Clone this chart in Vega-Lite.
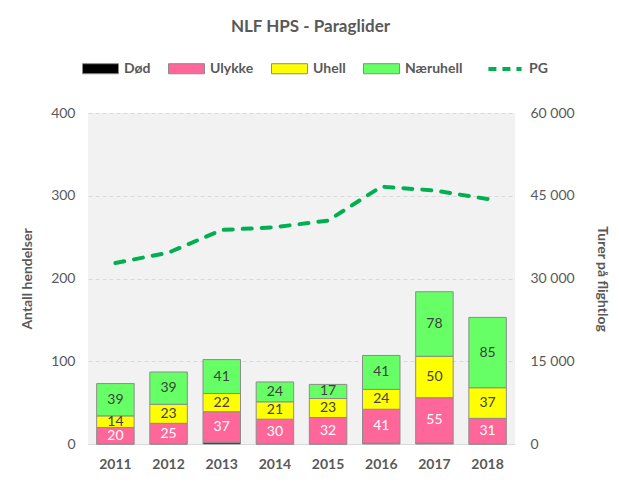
{
  "$schema": "https://vega.github.io/schema/vega-lite/v6.json",
  "width": 427,
  "height": 331,
  "autosize": {"type": "none"},
  "padding": {"left": 88, "top": 113, "right": 104, "bottom": 43},
  "background": "white",
  "title": {
    "text": "NLF HPS - Paraglider",
    "font": "Lato",
    "fontSize": 17,
    "fontWeight": "bold",
    "color": "#595959",
    "anchor": "middle",
    "dx": 9,
    "offset": 14
  },
  "config": {
    "font": "Lato",
    "view": {"fill": "#F2F2F2", "stroke": null}
  },
  "datasets": {
    "bars": [
      {"year": "2011", "cat": "Død", "k": 1, "v": 0},
      {"year": "2011", "cat": "Ulykke", "k": 2, "v": 20},
      {"year": "2011", "cat": "Uhell", "k": 3, "v": 14},
      {"year": "2011", "cat": "Næruhell", "k": 4, "v": 39},
      {"year": "2012", "cat": "Død", "k": 1, "v": 0},
      {"year": "2012", "cat": "Ulykke", "k": 2, "v": 25},
      {"year": "2012", "cat": "Uhell", "k": 3, "v": 23},
      {"year": "2012", "cat": "Næruhell", "k": 4, "v": 39},
      {"year": "2013", "cat": "Død", "k": 1, "v": 2},
      {"year": "2013", "cat": "Ulykke", "k": 2, "v": 37},
      {"year": "2013", "cat": "Uhell", "k": 3, "v": 22},
      {"year": "2013", "cat": "Næruhell", "k": 4, "v": 41},
      {"year": "2014", "cat": "Død", "k": 1, "v": 0},
      {"year": "2014", "cat": "Ulykke", "k": 2, "v": 30},
      {"year": "2014", "cat": "Uhell", "k": 3, "v": 21},
      {"year": "2014", "cat": "Næruhell", "k": 4, "v": 24},
      {"year": "2015", "cat": "Død", "k": 1, "v": 0},
      {"year": "2015", "cat": "Ulykke", "k": 2, "v": 32},
      {"year": "2015", "cat": "Uhell", "k": 3, "v": 23},
      {"year": "2015", "cat": "Næruhell", "k": 4, "v": 17},
      {"year": "2016", "cat": "Død", "k": 1, "v": 1},
      {"year": "2016", "cat": "Ulykke", "k": 2, "v": 41},
      {"year": "2016", "cat": "Uhell", "k": 3, "v": 24},
      {"year": "2016", "cat": "Næruhell", "k": 4, "v": 41},
      {"year": "2017", "cat": "Død", "k": 1, "v": 1},
      {"year": "2017", "cat": "Ulykke", "k": 2, "v": 55},
      {"year": "2017", "cat": "Uhell", "k": 3, "v": 50},
      {"year": "2017", "cat": "Næruhell", "k": 4, "v": 78},
      {"year": "2018", "cat": "Død", "k": 1, "v": 0},
      {"year": "2018", "cat": "Ulykke", "k": 2, "v": 31},
      {"year": "2018", "cat": "Uhell", "k": 3, "v": 37},
      {"year": "2018", "cat": "Næruhell", "k": 4, "v": 85}
    ],
    "pg": [
      {"year": "2011", "series": "PG", "turer": 32800},
      {"year": "2012", "series": "PG", "turer": 34700},
      {"year": "2013", "series": "PG", "turer": 38800},
      {"year": "2014", "series": "PG", "turer": 39300},
      {"year": "2015", "series": "PG", "turer": 40500},
      {"year": "2016", "series": "PG", "turer": 46650},
      {"year": "2017", "series": "PG", "turer": 45950},
      {"year": "2018", "series": "PG", "turer": 44400}
    ]
  },
  "encoding": {
    "x": {
      "field": "year",
      "type": "ordinal",
      "scale": {"paddingInner": 0.295, "paddingOuter": 0.163},
      "axis": {
        "title": null,
        "labelAngle": 0,
        "labelFont": "Lato",
        "labelFontSize": 14,
        "labelFontWeight": "bold",
        "labelColor": "#595959",
        "labelPadding": 13,
        "ticks": false,
        "domainColor": "#D9D9D9",
        "domainWidth": 1,
        "grid": false
      }
    }
  },
  "layer": [
    {
      "layer": [
        {
          "data": {"name": "bars"},
          "mark": {"type": "bar", "stroke": "#8C8C8C", "strokeWidth": 1},
          "encoding": {
            "y": {
              "field": "v",
              "type": "quantitative",
              "stack": "zero",
              "scale": {"domain": [0, 400], "nice": false},
              "axis": {
                "orient": "left",
                "values": [0, 100, 200, 300, 400],
                "title": "Antall hendelser",
                "titleFont": "Lato",
                "titleFontSize": 14,
                "titleFontWeight": "bold",
                "titleColor": "#595959",
                "titlePadding": 16,
                "labelFont": "Lato",
                "labelFontSize": 14,
                "labelColor": "#595959",
                "labelPadding": 13,
                "domain": false,
                "ticks": false,
                "grid": true,
                "gridColor": "#D9D9D9",
                "gridDash": [4, 3],
                "gridWidth": 1
              }
            },
            "fill": {
              "field": "cat",
              "type": "nominal",
              "scale": {
                "domain": ["Død", "Ulykke", "Uhell", "Næruhell"],
                "range": ["#000000", "#FF6699", "#FFFF00", "#66FF66"]
              },
              "legend": {
                "title": null,
                "orient": "none",
                "direction": "horizontal",
                "legendX": -6,
                "legendY": -63,
                "symbolType": "M-1,-0.28H1V0.28H-1Z",
                "symbolSize": 1296,
                "symbolStrokeColor": "#8C8C8C",
                "symbolStrokeWidth": 1,
                "symbolOpacity": 1,
                "labelFont": "Lato",
                "labelFontSize": 14,
                "labelFontWeight": "bold",
                "labelColor": "#595959",
                "labelOffset": 5,
                "columnPadding": 15
              }
            },
            "order": {"field": "k", "type": "quantitative"}
          }
        },
        {
          "data": {"name": "bars"},
          "transform": [
            {"stack": "v", "groupby": ["year"], "sort": [{"field": "k", "order": "ascending"}], "as": ["y0", "y1"]},
            {"fold": ["y0", "y1"], "as": ["edge", "pos"]},
            {"aggregate": [{"op": "mean", "field": "pos", "as": "mid"}, {"op": "max", "field": "v", "as": "v"}], "groupby": ["year", "cat"]},
            {"filter": "datum.cat !== 'Død'"}
          ],
          "mark": {"type": "text", "font": "Lato", "fontSize": 14, "baseline": "middle", "align": "center"},
          "encoding": {
            "y": {"field": "mid", "type": "quantitative"},
            "text": {"field": "v", "type": "quantitative"},
            "fill": {
              "condition": {"test": "datum.cat === 'Ulykke'", "value": "#FFFFFF"},
              "value": "#404040"
            }
          }
        }
      ]
    },
    {
      "data": {"name": "pg"},
      "mark": {"type": "line", "strokeWidth": 4, "strokeDash": [9, 10], "strokeCap": "round"},
      "encoding": {
        "y": {
          "field": "turer",
          "type": "quantitative",
          "scale": {"domain": [0, 60000], "nice": false},
          "axis": {
            "orient": "right",
            "values": [0, 15000, 30000, 45000, 60000],
            "labelExpr": "replace(format(datum.value, ','), ',', ' ')",
            "title": "Turer på flightlog",
            "titleFont": "Lato",
            "titleFontSize": 14,
            "titleFontWeight": "bold",
            "titleColor": "#595959",
            "titlePadding": 20,
            "labelFont": "Lato",
            "labelFontSize": 14,
            "labelColor": "#595959",
            "labelPadding": 15,
            "domain": false,
            "ticks": false,
            "grid": false
          }
        },
        "stroke": {
          "field": "series",
          "type": "nominal",
          "scale": {"domain": ["PG"], "range": ["#00B050"]},
          "legend": {
            "title": null,
            "orient": "none",
            "legendX": 398,
            "legendY": -63,
            "symbolType": "stroke",
            "symbolSize": 1100,
            "symbolStrokeWidth": 4,
            "symbolDash": [8, 6],
            "labelFont": "Lato",
            "labelFontSize": 14,
            "labelFontWeight": "bold",
            "labelColor": "#595959",
            "labelOffset": 5
          }
        }
      }
    }
  ],
  "resolve": {"scale": {"y": "independent"}}
}
